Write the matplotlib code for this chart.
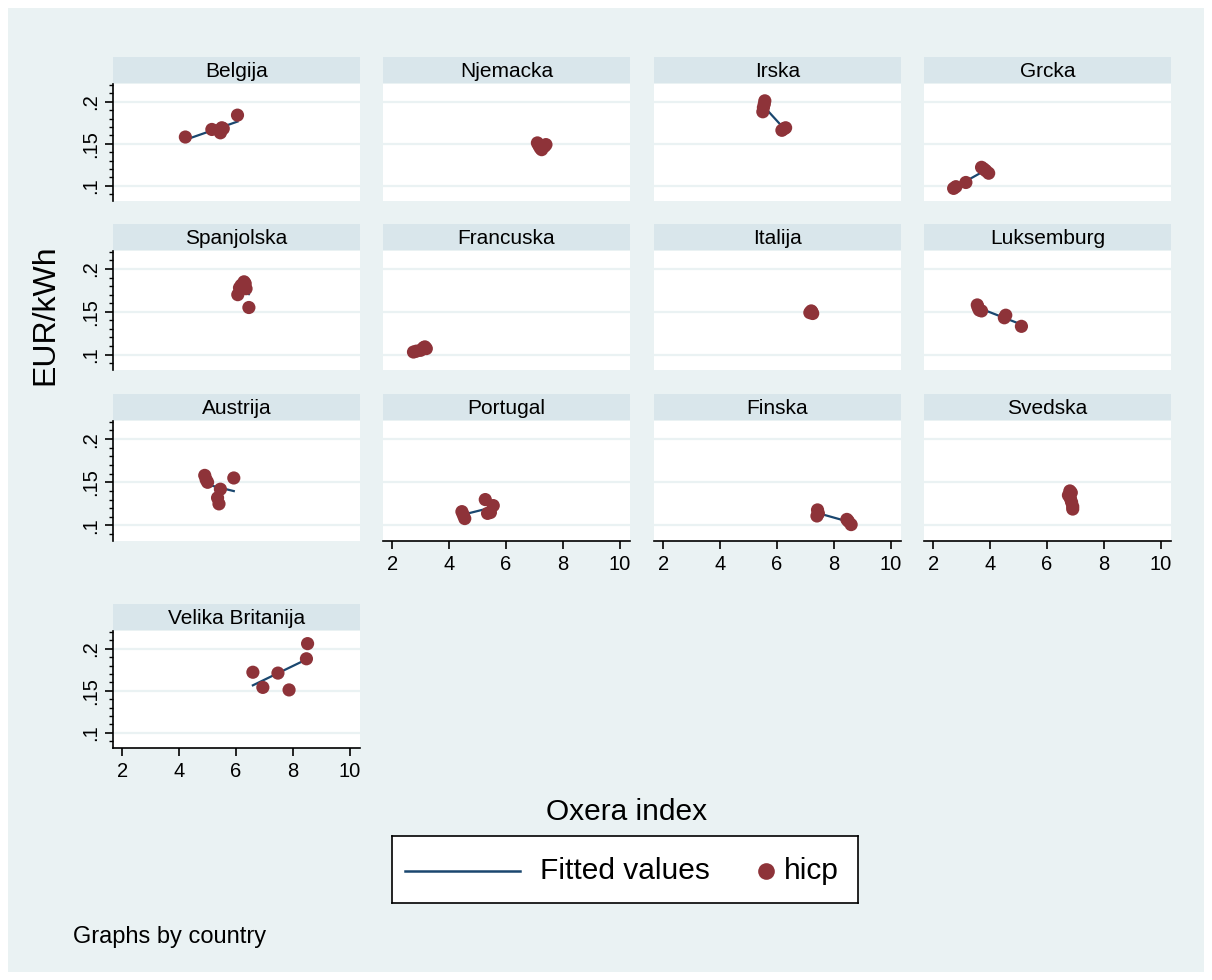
import matplotlib
matplotlib.use("Agg")
import matplotlib.pyplot as plt
import numpy as np
from matplotlib.patches import Rectangle
from matplotlib.ticker import MultipleLocator

plt.rcParams['font.family'] = ['Liberation Sans', 'DejaVu Sans']

# Oxera index (x) and hicp EUR/kWh (y) per country
countries = ['Belgija', 'Njemacka', 'Irska', 'Grcka',
             'Spanjolska', 'Francuska', 'Italija', 'Luksemburg',
             'Austrija', 'Portugal', 'Finska', 'Svedska',
             'Velika Britanija']

belgija_x = [4.22, 5.15, 5.40, 5.45, 5.50, 5.55, 6.05]
belgija_y = [0.158, 0.167, 0.166, 0.163, 0.169, 0.168, 0.184]
njemacka_x = [7.10, 7.15, 7.20, 7.25, 7.35, 7.40]
njemacka_y = [0.151, 0.148, 0.145, 0.143, 0.147, 0.149]
irska_x = [5.57, 5.55, 5.52, 5.50, 6.17, 6.25, 6.30]
irska_y = [0.201, 0.197, 0.193, 0.188, 0.166, 0.168, 0.169]
grcka_x = [2.72, 2.80, 3.15, 3.70, 3.78, 3.85, 3.95]
grcka_y = [0.097, 0.099, 0.104, 0.122, 0.120, 0.118, 0.115]
spanjolska_x = [6.06, 6.12, 6.18, 6.28, 6.32, 6.35, 6.45]
spanjolska_y = [0.170, 0.178, 0.181, 0.185, 0.183, 0.177, 0.155]
francuska_x = [2.75, 2.85, 3.00, 3.10, 3.15, 3.20]
francuska_y = [0.103, 0.104, 0.105, 0.108, 0.109, 0.107]
italija_x = [7.15, 7.20, 7.22, 7.25]
italija_y = [0.149, 0.151, 0.150, 0.148]
luksemburg_x = [3.55, 3.58, 3.62, 3.70, 4.50, 4.55, 5.10]
luksemburg_y = [0.158, 0.155, 0.152, 0.151, 0.143, 0.146, 0.133]
austrija_x = [4.90, 4.95, 5.00, 5.45, 5.35, 5.40, 5.92]
austrija_y = [0.158, 0.153, 0.150, 0.142, 0.132, 0.125, 0.155]
portugal_x = [4.45, 4.50, 4.55, 5.27, 5.35, 5.45, 5.55]
portugal_y = [0.116, 0.112, 0.108, 0.130, 0.114, 0.115, 0.123]
finska_x = [7.42, 7.45, 7.40, 8.45, 8.50, 8.60]
finska_y = [0.118, 0.114, 0.111, 0.107, 0.105, 0.101]
svedska_x = [6.80, 6.85, 6.75, 6.82, 6.86, 6.90, 6.90]
svedska_y = [0.140, 0.138, 0.135, 0.131, 0.127, 0.122, 0.119]
britanija_x = [6.59, 6.94, 7.47, 7.86, 8.47, 8.51]
britanija_y = [0.172, 0.154, 0.171, 0.151, 0.188, 0.206]

series_x = [belgija_x, njemacka_x, irska_x, grcka_x, spanjolska_x, francuska_x,
            italija_x, luksemburg_x, austrija_x, portugal_x, finska_x, svedska_x,
            britanija_x]
series_y = [belgija_y, njemacka_y, irska_y, grcka_y, spanjolska_y, francuska_y,
            italija_y, luksemburg_y, austrija_y, portugal_y, finska_y, svedska_y,
            britanija_y]

x_ticks = [2, 4, 6, 8, 10]
y_ticks = [0.1, 0.15, 0.2]
y_tick_labels = ['.1', '.15', '.2']
legend_labels = ['Fitted values', 'hicp']

BG = '#EAF2F3'
STRIP = '#D9E6EB'
MAROON = '#8E3339'
NAVY = '#1A476F'

W, H = 1212, 980
fig = plt.figure(figsize=(W / 100, H / 100), dpi=100)
fig.patch.set_facecolor('white')
fig.patches.append(Rectangle((8 / W, 8 / H), 1196 / W, 964 / H, transform=fig.transFigure,
                             facecolor=BG, edgecolor='none', zorder=-10))

col_left = [113, 383, 654, 924]
col_w = 247
row_top = [84, 251, 421, 631]
row_h = [117, 119, 120, 117]
strip_h = 27


def fig_rect(x, y, w, h):
    return [x / W, 1 - (y + h) / H, w / W, h / H]


for i, name in enumerate(countries):
    r, c = divmod(i, 4)
    x0, y0, h = col_left[c], row_top[r], row_h[r]
    ax = fig.add_axes(fig_rect(x0, y0, col_w, h))
    ax.set_facecolor('white')
    ax.set_xlim(1.68, 10.35)
    ax.set_ylim(0.082, 0.221)
    for yv in y_ticks:
        ax.axhline(yv, color=BG, lw=1.6, zorder=0)

    xs = np.array(series_x[i])
    ys = np.array(series_y[i])
    b, a = np.polyfit(xs, ys, 1)
    xl = np.array([xs.min(), xs.max()])
    ax.plot(xl, a + b * xl, color=NAVY, lw=1.6, zorder=2)
    ax.scatter(xs, ys, s=90, color=MAROON, edgecolors='none', zorder=3)

    for s in ax.spines.values():
        s.set_visible(False)

    if c == 0:
        ax.spines['left'].set_visible(True)
        ax.spines['left'].set_linewidth(1.2)
        ax.set_yticks(y_ticks)
        ax.set_yticklabels(y_tick_labels, rotation=90, va='center', fontsize=14.5)
        ax.yaxis.set_minor_locator(MultipleLocator(0.01))
        ax.tick_params(axis='y', which='major', length=6, width=1.2, pad=3)
        ax.tick_params(axis='y', which='minor', length=3, width=1)
    else:
        ax.set_yticks([])

    bottom_panel = (r == 2 and c > 0) or (r == 3)
    if bottom_panel:
        ax.spines['bottom'].set_visible(True)
        ax.spines['bottom'].set_linewidth(1.2)
        ax.set_xticks(x_ticks)
        ax.set_xticklabels([str(t) for t in x_ticks], fontsize=14.5)
        ax.tick_params(axis='x', length=6, width=1.2, pad=4)
    else:
        ax.set_xticks([])

    sax = fig.add_axes(fig_rect(x0, y0 - strip_h, col_w, strip_h - 1))
    sax.set_facecolor(STRIP)
    sax.set_xticks([])
    sax.set_yticks([])
    for s in sax.spines.values():
        s.set_visible(False)
    sax.text(0.5, 0.45, name, ha='center', va='center', fontsize=15,
             transform=sax.transAxes)

fig.text(45 / W, 1 - 315 / H, 'EUR/kWh', rotation=90, ha='center', va='center',
         fontsize=23)
fig.text(627 / W, 1 - 812 / H, 'Oxera index', ha='center', va='center', fontsize=21.5)
fig.text(73 / W, 1 - 937 / H, 'Graphs by country', ha='left', va='center',
         fontsize=17)

# legend box drawn by hand so the marker key can be narrower than the line key
lax = fig.add_axes(fig_rect(392, 836, 466, 67))
lax.set_xlim(0, 1)
lax.set_ylim(0, 1)
lax.set_facecolor('white')
lax.set_xticks([])
lax.set_yticks([])
for s in lax.spines.values():
    s.set_linewidth(1.2)
    s.set_color('black')
lax.plot([0.028, 0.275], [0.48, 0.48], color=NAVY, lw=1.8)
lax.text(0.318, 0.48, legend_labels[0], ha='left', va='center', fontsize=21.5)
lax.plot([0.803], [0.48], marker='o', color=MAROON, markersize=12, markeredgewidth=0)
lax.text(0.84, 0.48, legend_labels[1], ha='left', va='center', fontsize=21.5)

fig.savefig('out.png', dpi=100, facecolor=fig.get_facecolor())
